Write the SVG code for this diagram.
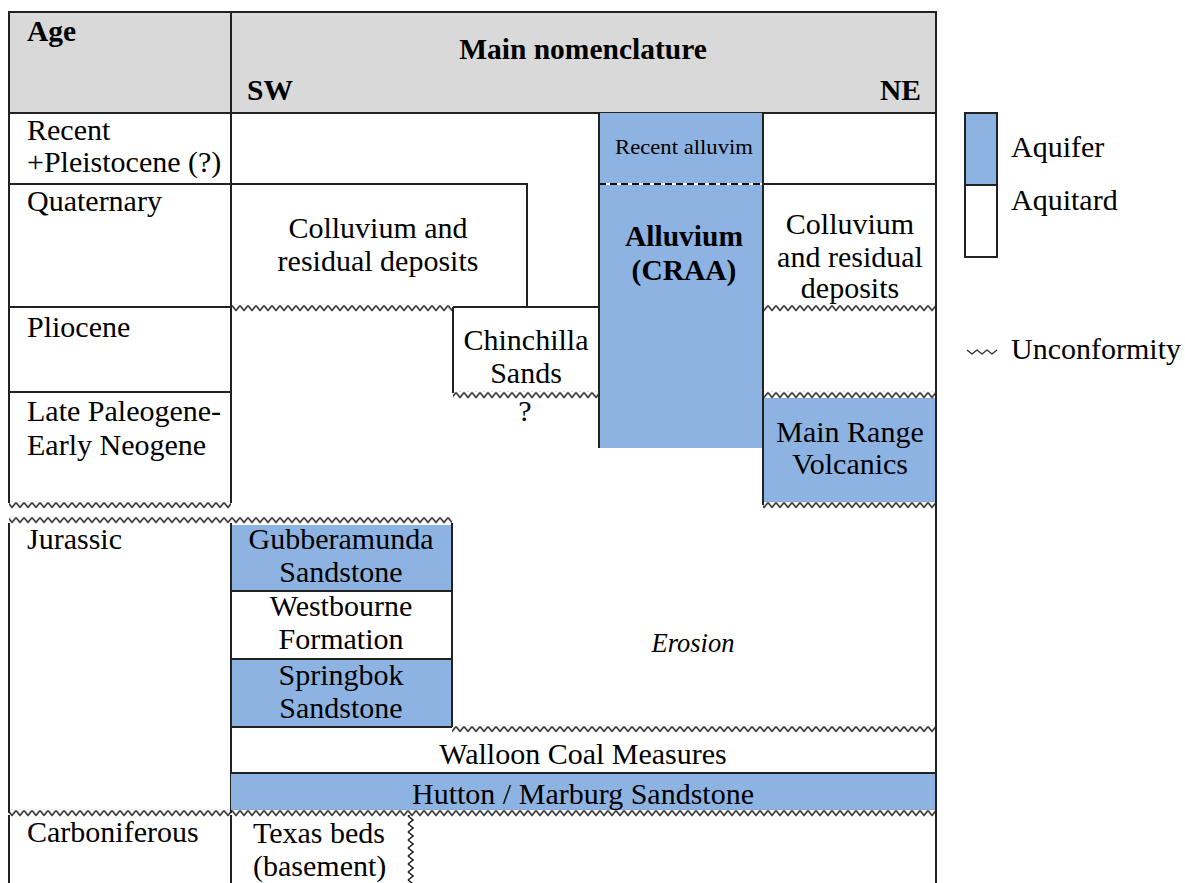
<svg xmlns="http://www.w3.org/2000/svg" width="1185" height="883" viewBox="0 0 1185 883" font-family="'Liberation Serif', 'Times New Roman', 'DejaVu Serif', serif">
<defs>
<pattern id="zzh" width="8" height="7" patternUnits="userSpaceOnUse"><path d="M0,1 L4,6 L8,1" fill="none" stroke="#222" stroke-width="1.5"/></pattern>
<pattern id="zzv" width="7" height="8" patternUnits="userSpaceOnUse"><path d="M1,0 L6,4 L1,8" fill="none" stroke="#222" stroke-width="1.5"/></pattern>
</defs>
<style>
text{font-family:'Liberation Serif','Times New Roman','DejaVu Serif',serif;font-size:30px;fill:#000}
.b{font-weight:bold;font-size:29.5px}
.c{text-anchor:middle}
.e{text-anchor:end}
.i{font-style:italic;font-size:26.5px}
.ln{stroke:#222;stroke-width:2;fill:none}
.aq{fill:#8db3e2}
.wv{fill:url(#zzh)}
</style>
<rect width="1185" height="883" fill="#fff"/>

<g id="header">
<rect x="9" y="12" width="927" height="101" fill="#d9d9d9" stroke="#222" stroke-width="2"/>
<line class="ln" x1="231" y1="12" x2="231" y2="113"/>
<text class="b" x="27" y="41">Age</text>
<text class="b c" x="583" y="59">Main nomenclature</text>
<text class="b" x="247" y="100">SW</text>
<text class="b e" x="921" y="100">NE</text>
</g>

<g id="age-column">
<path class="ln" d="M9,113 V503 M231,113 V503 M9,184 H231 M9,307 H231 M9,392 H231 M9,523 V813 M231,523 V813 M9,815 V883 M231,815 V883"/>
<text x="27" y="140">Recent</text>
<text x="27" y="172">+Pleistocene (?)</text>
<text x="27" y="211">Quaternary</text>
<text x="27" y="337">Pliocene</text>
<text x="27" y="421">Late Paleogene-</text>
<text x="27" y="455">Early Neogene</text>
<text x="27" y="549">Jurassic</text>
<text x="27" y="842">Carboniferous</text>
</g>

<g id="colluvium-sw">
<path class="ln" d="M231,184 H527 V307"/>
<text class="c" x="378" y="238">Colluvium and</text>
<text class="c" x="378" y="271">residual deposits</text>
</g>

<g id="recent-alluvium">
<rect class="aq" x="599" y="113" width="164" height="71"/>
<text x="615" y="154" style="font-size:21px" textLength="138" lengthAdjust="spacingAndGlyphs">Recent alluvim</text>
</g>

<g id="alluvium-craa">
<rect class="aq" x="599" y="184" width="164" height="264"/>
<line x1="599" y1="184" x2="763" y2="184" stroke="#fff" stroke-width="2"/>
<line x1="599" y1="184" x2="763" y2="184" stroke="#111" stroke-width="2" stroke-dasharray="7,4"/>
<text class="b c" x="684" y="246">Alluvium</text>
<text class="b c" x="684" y="280">(CRAA)</text>
</g>

<g id="chinchilla-sands">
<path class="ln" d="M453,307 H599 M453,307 V393"/>
<text class="c" x="526" y="350">Chinchilla</text>
<text class="c" x="526" y="383">Sands</text>
<text class="c" x="525" y="421">?</text>
</g>

<g id="colluvium-ne">
<path class="ln" d="M763,184 H936"/>
<text class="c" x="850" y="234">Colluvium</text>
<text class="c" x="850" y="267">and residual</text>
<text class="c" x="850" y="298">deposits</text>
</g>

<g id="main-range-volcanics">
<rect class="aq" x="763" y="398" width="173" height="104"/>
<text class="c" x="850" y="442">Main Range</text>
<text class="c" x="850" y="474">Volcanics</text>
</g>

<g id="gubberamunda-sandstone">
<rect class="aq" x="231" y="525" width="221" height="66"/>
<text class="c" x="341" y="549">Gubberamunda</text>
<text class="c" x="341" y="582">Sandstone</text>
</g>
<g id="westbourne-formation">
<text class="c" x="341" y="616">Westbourne</text>
<text class="c" x="341" y="649">Formation</text>
</g>
<g id="springbok-sandstone">
<rect class="aq" x="231" y="659" width="221" height="68"/>
<text class="c" x="341" y="685">Springbok</text>
<text class="c" x="341" y="718">Sandstone</text>
</g>
<g id="erosion">
<text class="i c" x="693" y="652">Erosion</text>
</g>
<g id="walloon-coal-measures">
<text class="c" x="583" y="764">Walloon Coal Measures</text>
</g>
<g id="hutton-marburg-sandstone">
<rect class="aq" x="231" y="773" width="705" height="37"/>
<text class="c" x="583" y="804">Hutton / Marburg Sandstone</text>
</g>
<g id="texas-beds">
<text x="253" y="843">Texas beds</text>
<text x="253" y="876">(basement)</text>
</g>

<g id="lines">
<path class="ln" d="M599,113 V448 M763,113 V505 M936,12 V883 M231,591 H452 M231,659 H452 M231,727 H452 M452,523 V727 M231,773 H936 M231,525 V773"/>
</g>

<g id="unconformities">
<rect class="wv" x="9" y="0" width="222" height="7" transform="translate(0,501.5)"/>
<rect class="wv" x="231" y="0" width="222" height="7" transform="translate(0,304.5)"/>
<rect class="wv" x="453" y="0" width="146" height="7" transform="translate(0,391.5)"/>
<rect class="wv" x="763" y="0" width="173" height="7" transform="translate(0,304.5)"/>
<rect class="wv" x="763" y="0" width="173" height="7" transform="translate(0,391.5)"/>
<rect class="wv" x="763" y="0" width="173" height="7" transform="translate(0,501.5)"/>
<rect class="wv" x="9" y="0" width="443" height="7" transform="translate(0,516.5)"/>
<rect class="wv" x="452" y="0" width="484" height="7" transform="translate(0,725.5)"/>
<rect class="wv" x="9" y="0" width="927" height="7" transform="translate(0,809.5)"/>
<rect x="0" y="815" width="7" height="68" fill="url(#zzv)" transform="translate(407,0)"/>
</g>

<g id="legend">
<rect class="aq" x="965" y="113" width="32" height="72" stroke="#222" stroke-width="2"/>
<rect x="965" y="185" width="32" height="72" fill="#fff" stroke="#222" stroke-width="2"/>
<text x="1011" y="157">Aquifer</text>
<text x="1011" y="210">Aquitard</text>
<path d="M967,350 l5,4 5,-4 5,4 5,-4 5,4 5,-4" fill="none" stroke="#333" stroke-width="1.4" stroke-linejoin="round"/>
<text x="1011" y="359">Unconformity</text>
</g>
</svg>
